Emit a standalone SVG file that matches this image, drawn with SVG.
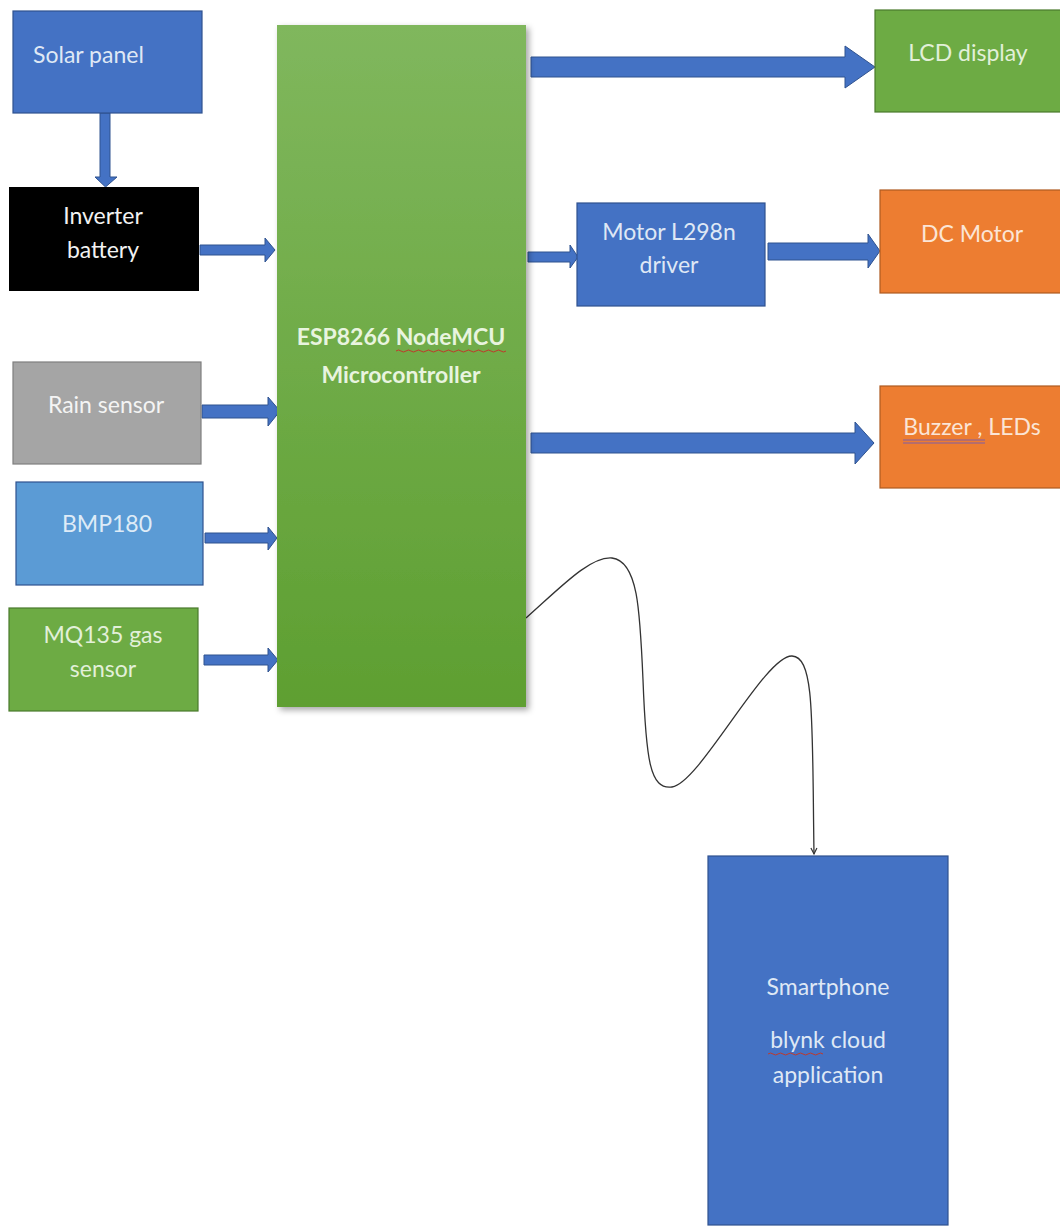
<svg xmlns="http://www.w3.org/2000/svg" width="1060" height="1226" viewBox="0 0 1060 1226">
<style>
  .lbl { font-family: Lato, "Liberation Sans", sans-serif; font-size: 23px; text-anchor: middle; }
  .blue { fill: #4472c4; stroke: #2f528f; stroke-width: 1.2; }
  .arrow { fill: #4472c4; stroke: #2f528f; stroke-width: 1; }
  .tb { fill: #dfe8f5; }
  .tg { fill: #e2f0d9; }
  .to { fill: #fbe5d6; }
</style>
<defs>
  <linearGradient id="espGrad" x1="0" y1="0" x2="0" y2="1">
    <stop offset="0" stop-color="#80b75d"/>
    <stop offset="1" stop-color="#5e9f31"/>
  </linearGradient>
  <filter id="shadow" x="-10%" y="-5%" width="120%" height="110%">
    <feDropShadow dx="3" dy="3" stdDeviation="3" flood-color="#000" flood-opacity="0.35"/>
  </filter>
  <marker id="openHead" markerWidth="10" markerHeight="10" refX="7" refY="4" orient="auto" markerUnits="userSpaceOnUse">
    <path d="M1,1 L7,4 L1,7" fill="none" stroke="#333" stroke-width="1.2"/>
  </marker>
</defs>
<rect width="1060" height="1226" fill="#ffffff"/>

<g id="connectors">
  <!-- Solar -> Inverter -->
  <polygon class="arrow" points="100,113 110,113 110,177 117,177 105.5,187 95,177 100,177"/>
  <!-- Inverter -> ESP -->
  <polygon class="arrow" points="200,245 265,245 265,238 275,250 265,262 265,255 200,255"/>
  <!-- Rain -> ESP -->
  <polygon class="arrow" points="202,405 268,405 268,397 280,411 268,426 268,418 202,418"/>
  <!-- BMP -> ESP -->
  <polygon class="arrow" points="205,533 268,533 268,527 277,538 268,550 268,543 205,543"/>
  <!-- MQ135 -> ESP -->
  <polygon class="arrow" points="204,655 268,655 268,648 278,660 268,672 268,665 204,665"/>
  <!-- ESP -> LCD -->
  <polygon class="arrow" points="531,57 845,57 845,46 875,67 845,88 845,77 531,77"/>
  <!-- ESP -> Motor driver -->
  <polygon class="arrow" points="528,252 570,252 570,245 578,257 570,268 570,262 528,262"/>
  <!-- Motor driver -> DC motor -->
  <polygon class="arrow" points="768,243 868,243 868,234 880,251 868,268 868,260 768,260"/>
  <!-- ESP -> Buzzer -->
  <polygon class="arrow" points="531,433 855,433 855,422 874,443 855,464 855,453 531,453"/>
  <!-- ESP -> Smartphone (wireless curve) -->
  <path d="M526,618 C560,588 590,556 612,558 C638,561 640,610 643,680 C646,760 650,790 672,787 C700,783 765,655 792,656 C815,657 812,720 814,854" fill="none" stroke="#333" stroke-width="1.3" marker-end="url(#openHead)"/>
</g>

<g id="solar-panel">
  <rect class="blue" x="13" y="11" width="189" height="102"/>
  <text class="lbl tb" x="33" y="63" style="text-anchor:start">Solar panel</text>
</g>

<g id="inverter-battery">
  <rect x="9" y="187" width="190" height="104" fill="#000000"/>
  <text class="lbl" x="103" y="224" fill="#f2f2f2">Inverter</text>
  <text class="lbl" x="103" y="258" fill="#f2f2f2">battery</text>
</g>

<g id="rain-sensor">
  <rect x="13" y="362" width="188" height="102" fill="#a5a5a5" stroke="#7f7f7f" stroke-width="1.2"/>
  <text class="lbl" x="106" y="413" fill="#f4f4f4">Rain sensor</text>
</g>

<g id="bmp180">
  <rect x="16" y="482" width="187" height="103" fill="#5b9bd5" stroke="#2f528f" stroke-width="1.2"/>
  <text class="lbl" x="107" y="532" fill="#deebf7">BMP180</text>
</g>

<g id="mq135">
  <rect x="9" y="608" width="189" height="103" fill="#6dab44" stroke="#4a7a2c" stroke-width="1.2"/>
  <text class="lbl tg" x="103" y="643">MQ135 gas</text>
  <text class="lbl tg" x="103" y="677">sensor</text>
</g>

<g id="esp8266">
  <rect x="277" y="25" width="249" height="682" fill="url(#espGrad)" filter="url(#shadow)"/>
  <text class="lbl" x="401" y="345" font-weight="bold" fill="#e8f4df">ESP8266 NodeMCU</text>
  <path d="M396,351 q2.5,-2 5,0 t5,0 t5,0 t5,0 t5,0 t5,0 t5,0 t5,0 t5,0 t5,0 t5,0 t5,0 t5,0 t5,0 t5,0 t5,0 t5,0 t5,0 t5,0 t5,0 t5,0 t5,0" fill="none" stroke="#c0392b" stroke-width="1"/>
  <text class="lbl" x="401" y="383" font-weight="bold" fill="#e8f4df">Microcontroller</text>
</g>

<g id="lcd-display">
  <rect x="875" y="10" width="190" height="102" fill="#6dab44" stroke="#4a7a2c" stroke-width="1.2"/>
  <text class="lbl tg" x="968" y="61">LCD display</text>
</g>

<g id="motor-driver">
  <rect class="blue" x="577" y="203" width="188" height="103"/>
  <text class="lbl tb" x="669" y="240">Motor L298n</text>
  <text class="lbl tb" x="669" y="273">driver</text>
</g>

<g id="dc-motor">
  <rect x="880" y="190" width="185" height="103" fill="#ed7d31" stroke="#ae5a21" stroke-width="1.2"/>
  <text class="lbl to" x="972" y="242">DC Motor</text>
</g>

<g id="buzzer-leds">
  <rect x="880" y="386" width="185" height="102" fill="#ed7d31" stroke="#ae5a21" stroke-width="1.2"/>
  <text class="lbl to" x="972" y="435">Buzzer , LEDs</text>
  <line x1="903" y1="440" x2="985" y2="440" stroke="#7e5ea8" stroke-width="1"/>
  <line x1="903" y1="443" x2="985" y2="443" stroke="#7e5ea8" stroke-width="1"/>
</g>

<g id="smartphone">
  <rect class="blue" x="708" y="856" width="240" height="369"/>
  <text class="lbl tb" x="828" y="995">Smartphone</text>
  <text class="lbl tb" x="828" y="1048">blynk cloud</text>
  <path d="M768,1054 q2.5,-2 5,0 t5,0 t5,0 t5,0 t5,0 t5,0 t5,0 t5,0 t5,0 t5,0 t5,0" fill="none" stroke="#c0392b" stroke-width="1"/>
  <text class="lbl tb" x="828" y="1083">application</text>
</g>
</svg>
